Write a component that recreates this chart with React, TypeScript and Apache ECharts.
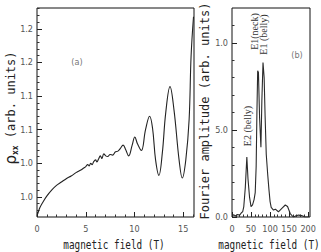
import React, { useEffect, useRef } from "react";
import * as echarts from "echarts";

// (a) longitudinal resistivity vs magnetic field
const fieldT = [
  0.0, 0.1, 0.3, 0.6, 1.0, 1.5, 2.0, 2.5, 3.0, 3.5, 4.0, 4.5, 4.8, 5.0, 5.2, 5.35, 5.5, 5.65, 5.8,
  6.0, 6.15, 6.3, 6.5, 6.65, 6.85, 7.05, 7.25, 7.5, 7.75, 8.05, 8.3, 8.55, 8.83, 9.1, 9.4, 9.76,
  10.03, 10.3, 10.7, 11.13, 11.55, 11.85, 12.16, 12.5, 12.85, 13.2, 13.64, 14.05, 14.57, 14.9,
  15.26, 15.6, 15.8, 16.05,
];
const rhoXX = [
  0.972, 0.976, 0.984, 0.992, 1.001, 1.01, 1.017, 1.022, 1.027, 1.031, 1.036, 1.04, 1.043, 1.045,
  1.048, 1.046, 1.05, 1.048, 1.052, 1.055, 1.052, 1.056, 1.061, 1.057, 1.064, 1.061, 1.06, 1.063,
  1.062, 1.067, 1.068, 1.072, 1.077, 1.07, 1.061, 1.077, 1.089, 1.079, 1.069, 1.1, 1.12, 1.102,
  1.055, 1.032, 1.065, 1.125, 1.164, 1.129, 1.055, 1.028, 1.055, 1.115, 1.209, 1.268,
];

// (b) Fourier spectrum
const freqT = [
  0, 5, 10, 15, 20, 25, 28, 31, 35, 39, 42, 46, 50, 54, 58, 61, 63.5, 65.5, 67.5, 69.5, 72.5, 76,
  78.5, 81.5, 84.5, 87, 90, 94, 97, 100, 103, 109, 114, 122, 131, 140, 146, 153, 161, 166, 175, 183,
  192, 201,
];
const fourierAmp = [
  0.01, 0.012, 0.006, 0.015, 0.01, 0.025, 0.03, 0.06, 0.17, 0.345, 0.22, 0.116, 0.06, 0.07, 0.1,
  0.14, 0.29, 0.6, 0.84, 0.83, 0.57, 0.4, 0.67, 0.887, 0.8, 0.58, 0.36, 0.24, 0.16, 0.09, 0.055,
  0.04, 0.045, 0.03, 0.05, 0.069, 0.06, 0.02, 0.0, 0.005, 0.011, 0.008, 0.0, 0.0,
];

// tick values and their printed labels
const leftXTicks = [0, 5, 10, 15];
const leftYTicks = [1.0, 1.05, 1.1, 1.15, 1.2, 1.25];
const leftYLabels = ["1.0", "1.0", "1.1", "1.1", "1.2", "1.2"];
const rightXTicks = [0, 50, 100, 150, 200];
const rightYTicks = [0, 0.5, 1.0];
const rightYLabels = ["0.0", "5.0", "1.0"];

const steps = (from: number, to: number, step: number, skip: number[]) => {
  const out: number[] = [];
  for (let i = 0; from + i * step <= to + 1e-9; i++) {
    const v = +(from + i * step).toFixed(4);
    if (!skip.some((s) => Math.abs(s - v) < 1e-6)) out.push(v);
  }
  return out;
};

const lookup = (vals: number[], labels: string[]) => (v: number) => {
  const i = vals.findIndex((t) => Math.abs(t - v) < 1e-6);
  return i >= 0 ? labels[i] : "";
};

const tickFont = '"Liberation Sans Narrow", "DejaVu Sans Condensed", sans-serif';
const monoFont = '"DejaVu Sans Mono", monospace';
const serifFont = '"Liberation Serif", "DejaVu Serif", serif';

export default function App() {
  const ref = useRef<HTMLDivElement>(null);

  useEffect(() => {
    if (!ref.current) return;
    const chart = echarts.init(ref.current, null, { renderer: "svg" });

    const axisBase = (gridIndex: number, min: number, max: number) => ({
      type: "value" as const,
      gridIndex,
      min,
      max,
      axisLine: { show: false },
      splitLine: { show: false },
    });
    const major = (ticks: number[], fmt: (v: number) => string, margin: number) => ({
      axisTick: { customValues: ticks, inside: true, length: 5, lineStyle: { color: "#222", width: 1 } },
      axisLabel: {
        customValues: ticks,
        formatter: fmt,
        margin,
        color: "#555",
        fontSize: 9,
        fontFamily: tickFont,
      },
    });
    const minor = (ticks: number[]) => ({
      axisTick: { customValues: ticks, inside: true, length: 2.5, lineStyle: { color: "#333", width: 1 } },
      axisLabel: { show: false },
    });

    const rotText = (x: number, y: number, text: string, font: string, fill: string, extra: any = {}) => ({
      type: "text",
      x,
      y,
      rotation: Math.PI / 2,
      style: {
        text,
        font,
        fill,
        align: "center",
        verticalAlign: "middle",
        textAlign: "center",
        textVerticalAlign: "middle",
        ...extra,
      },
    });
    const flatText = (x: number, y: number, text: string, font: string, fill: string, scaleX = 1) => ({
      type: "text",
      x,
      y,
      scaleX,
      style: {
        text,
        font,
        fill,
        align: "center",
        verticalAlign: "middle",
        textAlign: "center",
        textVerticalAlign: "middle",
      },
    });

    chart.setOption({
      animation: false,
      backgroundColor: "#fff",
      grid: [
        { left: 37, top: 8, width: 157, height: 209, show: true, borderColor: "#111", borderWidth: 1, backgroundColor: "transparent" },
        { left: 232, top: 8, width: 78, height: 209, show: true, borderColor: "#111", borderWidth: 1, backgroundColor: "transparent" },
      ],
      xAxis: [
        { ...axisBase(0, 0, 16.1), position: "bottom", ...major(leftXTicks, (v: number) => String(v), 7) },
        { ...axisBase(0, 0, 16.1), position: "bottom", ...minor(steps(0, 16, 1, leftXTicks)) },
        { ...axisBase(1, 0, 205), position: "bottom", ...major(rightXTicks, (v: number) => String(v), 7) },
        { ...axisBase(1, 0, 205), position: "bottom", ...minor(steps(0, 200, 10, rightXTicks)) },
      ],
      yAxis: [
        { ...axisBase(0, 0.97, 1.281), position: "left", ...major(leftYTicks, lookup(leftYTicks, leftYLabels), 4) },
        { ...axisBase(0, 0.97, 1.281), position: "left", ...minor(steps(0.98, 1.28, 0.01, leftYTicks)) },
        { ...axisBase(1, 0, 1.2), position: "left", ...major(rightYTicks, lookup(rightYTicks, rightYLabels), 4) },
        { ...axisBase(1, 0, 1.2), position: "left", ...minor(steps(0.1, 1.1, 0.1, rightYTicks)) },
      ],
      series: [
        {
          type: "line",
          xAxisIndex: 0,
          yAxisIndex: 0,
          data: fieldT.map((b, i) => [b, rhoXX[i]]),
          showSymbol: false,
          smooth: 0.4,
          lineStyle: { color: "#222", width: 1.1 },
        },
        {
          type: "line",
          xAxisIndex: 2,
          yAxisIndex: 2,
          data: freqT.map((f, i) => [f, fourierAmp[i]]),
          showSymbol: false,
          smooth: false,
          lineStyle: { color: "#2a2a2a", width: 1.1 },
        },
      ],
      graphic: [
        rotText(11, 108, "{r|ρ}{s|xx} (arb. units)", `12px ${monoFont}`, "#222", {
          rich: {
            r: { fontSize: 15, fontFamily: '"DejaVu Sans", sans-serif', verticalAlign: "top", lineHeight: 16 },
            s: { fontSize: 8, fontFamily: monoFont, fontWeight: "bold", verticalAlign: "bottom", lineHeight: 9 },
          },
        }),
        rotText(205, 111, "Fourier amplitude (arb. units)", `12px ${monoFont}`, "#222"),
        flatText(114, 244, "magnetic field (T)", `13px ${monoFont}`, "#222", 0.72),
        flatText(269, 244, "magnetic field (T)", `13px ${monoFont}`, "#222", 0.72),
        flatText(77, 62, "(a)", `9px ${tickFont}`, "#777"),
        flatText(297, 55, "(b)", `9px ${tickFont}`, "#777"),
        rotText(247, 126, "E2 (belly)", `10px ${serifFont}`, "#333"),
        rotText(254, 31.5, "E1(neck)", `10px ${serifFont}`, "#333"),
        rotText(263.5, 34.5, "E1 (belly)", `10px ${serifFont}`, "#333"),
      ],
    });

    return () => chart.dispose();
  }, []);

  return (
    <div
      ref={ref}
      style={{ position: "fixed", left: 0, top: 0, width: 321, height: 252 }}
    />
  );
}
